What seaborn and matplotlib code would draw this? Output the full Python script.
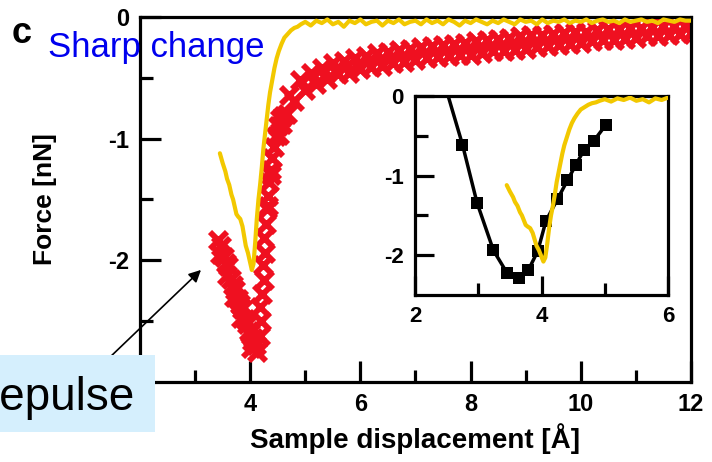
# force curve, panel c
import matplotlib
matplotlib.use("Agg")
import matplotlib.pyplot as plt
from matplotlib.patches import Rectangle
import seaborn as sns

# yellow curve: the dip and the rise
yellow_dip_x = [3.45, 3.50, 3.55, 3.58, 3.62, 3.66, 3.69, 3.72, 3.75, 3.78, 3.82, 3.86, 3.89,
                3.92, 3.96, 4.00, 4.03, 4.06, 4.09, 4.12, 4.15, 4.18, 4.21, 4.24, 4.27, 4.30,
                4.33, 4.36, 4.40, 4.44, 4.48, 4.52, 4.57, 4.62, 4.68, 4.74, 4.80, 4.86, 4.92]
yellow_dip_y = [-1.12, -1.20, -1.27, -1.33, -1.38, -1.46, -1.50, -1.56, -1.62, -1.64, -1.66, -1.72, -1.80,
                -1.88, -1.94, -2.02, -2.08, -2.03, -1.86, -1.66, -1.50, -1.38, -1.24, -1.08, -0.96, -0.84,
                -0.72, -0.62, -0.52, -0.42, -0.34, -0.28, -0.22, -0.17, -0.14, -0.11, -0.09, -0.08, -0.06]
# yellow curve: the flat part
yellow_flat_x = [5.0, 5.1, 5.2, 5.3, 5.4, 5.5, 5.6, 5.7, 5.8, 5.9, 6.0, 6.1, 6.2, 6.3, 6.4, 6.5, 6.6, 6.7,
                 6.8, 6.9, 7.0, 7.1, 7.2, 7.3, 7.4, 7.5, 7.6, 7.7, 7.8, 7.9, 8.0, 8.1, 8.2, 8.3, 8.4, 8.5,
                 8.6, 8.7, 8.8, 8.9, 9.0, 9.1, 9.2, 9.3, 9.4, 9.5, 9.6, 9.7, 9.8, 9.9, 10.0, 10.1, 10.2,
                 10.3, 10.4, 10.5, 10.6, 10.7, 10.8, 10.9, 11.0, 11.1, 11.2, 11.3, 11.4, 11.5, 11.6,
                 11.7, 11.8, 11.9, 12.0]
yellow_flat_y = [-0.04, -0.07, -0.03, -0.05, -0.02, -0.06, -0.04, -0.08, -0.03, -0.05, -0.02, -0.06,
                 -0.04, -0.03, -0.07, -0.03, -0.05, -0.02, -0.06, -0.04, -0.03, -0.06, -0.02, -0.05,
                 -0.03, -0.06, -0.02, -0.04, -0.07, -0.03, -0.05, -0.02, -0.04, -0.06, -0.03, -0.05,
                 -0.02, -0.04, -0.06, -0.02, -0.04, -0.03, -0.06, -0.02, -0.05, -0.03, -0.04, -0.02,
                 -0.05, -0.03, -0.04, -0.02, -0.05, -0.03, -0.02, -0.04, -0.03, -0.05, -0.02, -0.04,
                 -0.03, -0.02, -0.04, -0.03, -0.05, -0.02, -0.03, -0.04, -0.02, -0.03, -0.03]

# red crosses: approach, rise, long tail
red_approach_x = [3.42, 3.47, 3.45, 3.52, 3.56, 3.60, 3.58, 3.65, 3.69, 3.73, 3.70, 3.78, 3.82, 3.86,
                  3.84, 3.90, 3.94, 3.97, 4.00, 4.03, 4.06, 4.02, 4.10, 4.13]
red_approach_y = [-1.83, -1.88, -1.95, -1.97, -2.02, -2.05, -2.12, -2.15, -2.20, -2.24, -2.30, -2.32,
                  -2.36, -2.40, -2.47, -2.48, -2.52, -2.58, -2.60, -2.66, -2.64, -2.72, -2.70, -2.75]
red_rise_x = [4.17, 4.20, 4.18, 4.22, 4.25, 4.23, 4.27, 4.25, 4.28, 4.30, 4.33, 4.32, 4.34, 4.38,
              4.37, 4.40, 4.43, 4.47, 4.51, 4.52, 4.55, 4.58, 4.66]
red_rise_y = [-2.62, -2.50, -2.38, -2.28, -2.16, -2.04, -1.94, -1.82, -1.70, -1.58, -1.55, -1.47,
              -1.36, -1.30, -1.26, -1.16, -1.07, -0.98, -0.90, -0.97, -0.84, -0.88, -0.80]
red_tail_x = [4.6, 4.7, 4.8, 4.9, 5.0, 5.1, 5.2, 5.3, 5.4, 5.5, 5.6, 5.7, 5.8, 5.9, 6.0, 6.1, 6.2,
              6.3, 6.4, 6.5, 6.6, 6.7, 6.8, 6.9, 7.0, 7.1, 7.2, 7.3, 7.4, 7.5, 7.6, 7.7, 7.8, 7.9,
              8.0, 8.1, 8.2, 8.3, 8.4, 8.5, 8.6, 8.7, 8.8, 8.9, 9.0, 9.1, 9.2, 9.3, 9.4, 9.5, 9.6,
              9.7, 9.8, 9.9, 10.0, 10.1, 10.2, 10.3, 10.4, 10.5, 10.6, 10.7, 10.8, 10.9, 11.0, 11.1,
              11.2, 11.3, 11.4, 11.5, 11.6, 11.7, 11.8, 11.9, 12.0]
red_tail_y = [-0.81, -0.64, -0.69, -0.52, -0.60, -0.46, -0.55, -0.42, -0.51, -0.38, -0.47, -0.36,
              -0.46, -0.34, -0.43, -0.32, -0.41, -0.30, -0.40, -0.29, -0.38, -0.27, -0.37, -0.26,
              -0.35, -0.25, -0.34, -0.24, -0.33, -0.23, -0.32, -0.22, -0.31, -0.21, -0.31, -0.20,
              -0.30, -0.19, -0.28, -0.18, -0.28, -0.17, -0.27, -0.16, -0.26, -0.15, -0.25, -0.15,
              -0.24, -0.14, -0.23, -0.13, -0.22, -0.12, -0.21, -0.12, -0.20, -0.11, -0.19, -0.10,
              -0.19, -0.10, -0.18, -0.09, -0.17, -0.09, -0.16, -0.08, -0.16, -0.07, -0.15, -0.07,
              -0.14, -0.07, -0.13]

# inset: black squares
black_x = [2.45, 2.75, 2.98, 3.24, 3.46, 3.64, 3.79, 3.94, 4.07, 4.25, 4.41, 4.54, 4.67, 4.83, 5.02]
black_y = [0.20, -0.61, -1.34, -1.94, -2.23, -2.29, -2.19, -1.95, -1.57, -1.30, -1.06, -0.87, -0.68,
           -0.56, -0.36]

yellow_x = yellow_dip_x + yellow_flat_x
yellow_y = yellow_dip_y + yellow_flat_y
red_x = red_approach_x + red_rise_x + red_tail_x
red_y = red_approach_y + red_rise_y + red_tail_y

YELLOW = "#f2c800"
RED = "#ef1020"

sns.set_style("ticks")
plt.rcParams['font.family'] = ['Liberation Sans', 'DejaVu Sans']
plt.rcParams['axes.unicode_minus'] = False
plt.rcParams['text.color'] = 'black'
plt.rcParams['axes.labelcolor'] = 'black'


def style_axes(ax, size, major, minor):
    for s in ax.spines.values():
        s.set_linewidth(2.3)
        s.set_color("black")
    ax.tick_params(which="both", direction="in", width=2.3, top=False, right=False,
                   labelsize=size, pad=8, colors="black")
    ax.tick_params(which="major", length=major)
    ax.tick_params(which="minor", length=minor)
    for lab in ax.get_xticklabels() + ax.get_yticklabels():
        lab.set_fontweight("bold")


fig = plt.figure(figsize=(7.12, 4.62), dpi=100)

# main panel
ax = fig.add_axes([0.1966, 0.1732, 0.7739, 0.79])
sns.scatterplot(x=red_x, y=red_y, marker="x", s=150, linewidth=4.2, color=RED, ax=ax, zorder=2)
sns.lineplot(x=yellow_x, y=yellow_y, sort=False, estimator=None, color=YELLOW, lw=3, ax=ax, zorder=3)
ax.set_xlim(2, 12)
ax.set_ylim(-3, 0)
ax.set_xticks([4, 6, 8, 10, 12])
ax.set_xticks([3, 5, 7, 9, 11], minor=True)
ax.set_yticks([-2, -1, 0])
ax.set_yticks([-2.5, -1.5, -0.5], minor=True)
ax.set_xlabel("Sample displacement [Å]", fontsize=20, fontweight="bold", labelpad=5)
ax.set_ylabel("Force [nN]", fontsize=19, fontweight="bold")
ax.yaxis.set_label_coords(-0.15, 0.5)
style_axes(ax, 17, 15, 9)

# inset
ins = fig.add_axes([0.5829, 0.3615, 0.3553, 0.4307])
ins.set_facecolor("white")
sns.lineplot(x=black_x, y=black_y, sort=False, estimator=None, color="black", lw=2.5,
             marker="s", markersize=8.5, markeredgewidth=0, ax=ins, zorder=2)
sns.lineplot(x=yellow_x, y=yellow_y, sort=False, estimator=None, color=YELLOW, lw=3, ax=ins, zorder=3)
ins.set_xlim(2, 6)
ins.set_ylim(-2.5, 0)
ins.set_xticks([2, 4, 6])
ins.set_xticks([3, 5], minor=True)
ins.set_yticks([-2, -1, 0])
ins.set_yticks([-1.5, -0.5], minor=True)
style_axes(ins, 16, 14, 9)

# panel letter and notes
fig.text(12 / 712, 1 - 43 / 462, "c", fontsize=26, fontweight="bold", color="black")
fig.text(48 / 712, 1 - 57 / 462, "Sharp change", fontsize=25, color="#0000ee")
fig.patches.append(Rectangle((0, 30 / 462), 155 / 712, 77 / 462, transform=fig.transFigure,
                             facecolor="#d5effd", edgecolor="none", zorder=5))
fig.text(134 / 712, 1 - 410 / 462, "Repulse", fontsize=33, color="black", ha="right", zorder=6)
ax.annotate("", xy=(203, 462 - 268), xytext=(107, 462 - 360), xycoords="figure pixels",
            textcoords="figure pixels", annotation_clip=False,
            arrowprops=dict(arrowstyle="-|>", color="black", lw=1.2, mutation_scale=18))

fig.savefig("out.png", dpi=100, facecolor="white")
